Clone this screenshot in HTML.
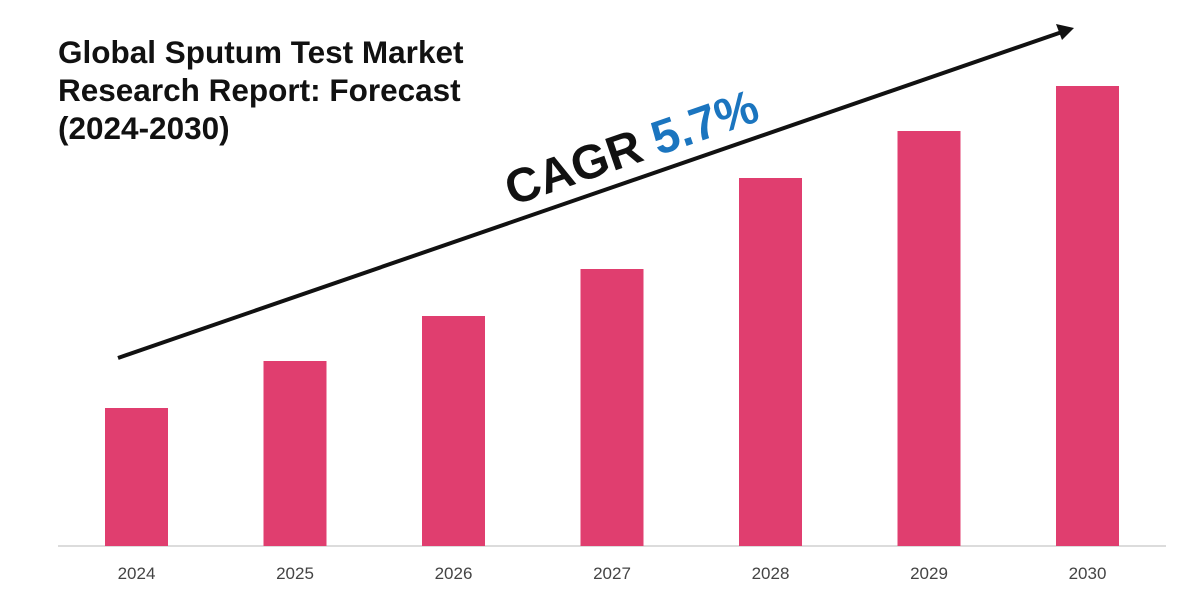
<!DOCTYPE html>
<html><head><meta charset="utf-8"><style>
body{margin:0;width:1200px;height:600px;background:#fff;overflow:hidden;font-family:"Liberation Sans",sans-serif}
</style></head><body>
<svg width="1200" height="600">
<text font-family="Liberation Sans" font-weight="bold" font-size="31.5" fill="#111">
<tspan x="58" y="63">Global Sputum Test Market</tspan>
<tspan x="58" y="101">Research Report: Forecast</tspan>
<tspan x="58" y="139">(2024-2030)</tspan></text>
<line x1="58" y1="546" x2="1166" y2="546" stroke="#d0d0d0" stroke-width="1.5"/>
<g id="bars"></g>
<g>
<line x1="118" y1="358" x2="1062" y2="32" stroke="#111" stroke-width="4"/>
<polygon points="1074,28 1056,24 1062,40" fill="#111"/>
</g>
<text transform="translate(512,206) rotate(-19)" font-family="Liberation Sans" font-weight="bold" font-size="48" fill="#111">CAGR <tspan fill="#1b75bf">5.7%</tspan></text>
</svg>
<script>
const categories=["2024","2025","2026","2027","2028","2029","2030"];
const values=[1.38,1.85,2.30,2.77,3.68,4.15,4.60];
const baseY=546, pxPerUnit=100, x0=105, step=158.5, bw=63;
const g=document.getElementById('bars');
const ns="http://www.w3.org/2000/svg";
categories.forEach((c,i)=>{
 const h=values[i]*pxPerUnit;
 const r=document.createElementNS(ns,'rect');
 r.setAttribute('x',x0+i*step);r.setAttribute('y',baseY-h);
 r.setAttribute('width',bw);r.setAttribute('height',h);r.setAttribute('fill','#e03e6f');
 
 
 g.appendChild(r);
 const t=document.createElementNS(ns,'text');
 t.setAttribute('x',x0+i*step+bw/2);t.setAttribute('y',579);
 t.setAttribute('text-anchor','middle');t.setAttribute('font-size','17');t.setAttribute('fill','#444');
 t.setAttribute('font-family','Liberation Sans');
 t.textContent=c;
 
 
 g.appendChild(t);
});
</script>
</body></html>
